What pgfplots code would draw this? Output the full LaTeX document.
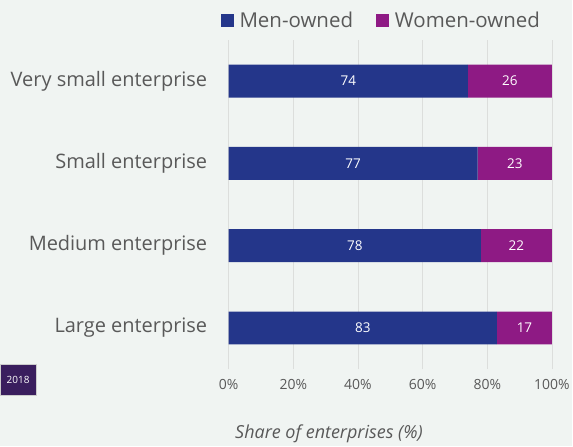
\documentclass[border=0pt]{standalone}
\usepackage{pgfplots}
\pgfplotsset{compat=1.18}
\usepackage{fontspec}
\setmainfont{Open Sans}
\definecolor{bg}{HTML}{F0F4F2}
\definecolor{men}{HTML}{24368A}
\definecolor{women}{HTML}{8E1A84}
\definecolor{txt}{HTML}{595959}
\definecolor{gridc}{HTML}{DCDEDC}
\definecolor{tag}{HTML}{3A1E5E}
\begin{document}
\begin{tikzpicture}[x=1pt,y=1pt]
\fill[bg] (0,0) rectangle (573,447);
\node[fill=tag, draw=gray!40, text=white, font=\fontsize{10}{12}\selectfont, minimum width=36pt, minimum height=31pt, inner sep=0pt] at (18,66) {2018};
\begin{axis}[
  at={(229pt,77pt)}, anchor=south west,
  xbar stacked, scale only axis, width=324pt, height=330pt,
  xmin=0, xmax=100, ymin=-0.5, ymax=3.5,
  bar width=33pt,
  /pgf/number format/assume math mode=true,
  axis line style={draw=none}, tick style={draw=none},
  xmajorgrids, grid style={gridc, line width=0.8pt},
  xtick={0,20,40,60,80,100},
  xticklabel={\pgfmathprintnumber{\tick}\%},
  x tick label style={font=\fontsize{14}{16}\selectfont, text=txt, yshift=-7pt},
  ytick={0,1,2,3},
  yticklabels={Large enterprise, Medium enterprise, Small enterprise, Very small enterprise},
  y tick label style={font=\fontsize{20}{22}\selectfont, text=txt, xshift=-18pt},
  legend style={at={(0.478,1.058)}, anchor=center, draw=none, fill=none, legend columns=2,
    font=\fontsize{20.5}{22}\selectfont, text=txt,
    nodes={inner xsep=6pt},
    /tikz/every even column/.append style={column sep=17pt}},
  nodes near coords,
  nodes near coords style={text=white, font=\fontsize{13.5}{15}\selectfont},
]
\addplot[fill=men, draw=none, legend image code/.code={\fill[men] (0pt,-6.5pt) rectangle (13pt,6.5pt);}]
  coordinates {(83,0) (78,1) (77,2) (74,3)};
\addplot[fill=women, draw=none, legend image code/.code={\fill[women] (0pt,-6.5pt) rectangle (13pt,6.5pt);}]
  coordinates {(17,0) (22,1) (23,2) (26,3)};
\legend{Men-owned, Women-owned}
\end{axis}
\node[font=\itshape\fontsize{18}{20}\selectfont, text=txt] at (329.5,12) {Share of enterprises (\%)};
\end{tikzpicture}
\end{document}
